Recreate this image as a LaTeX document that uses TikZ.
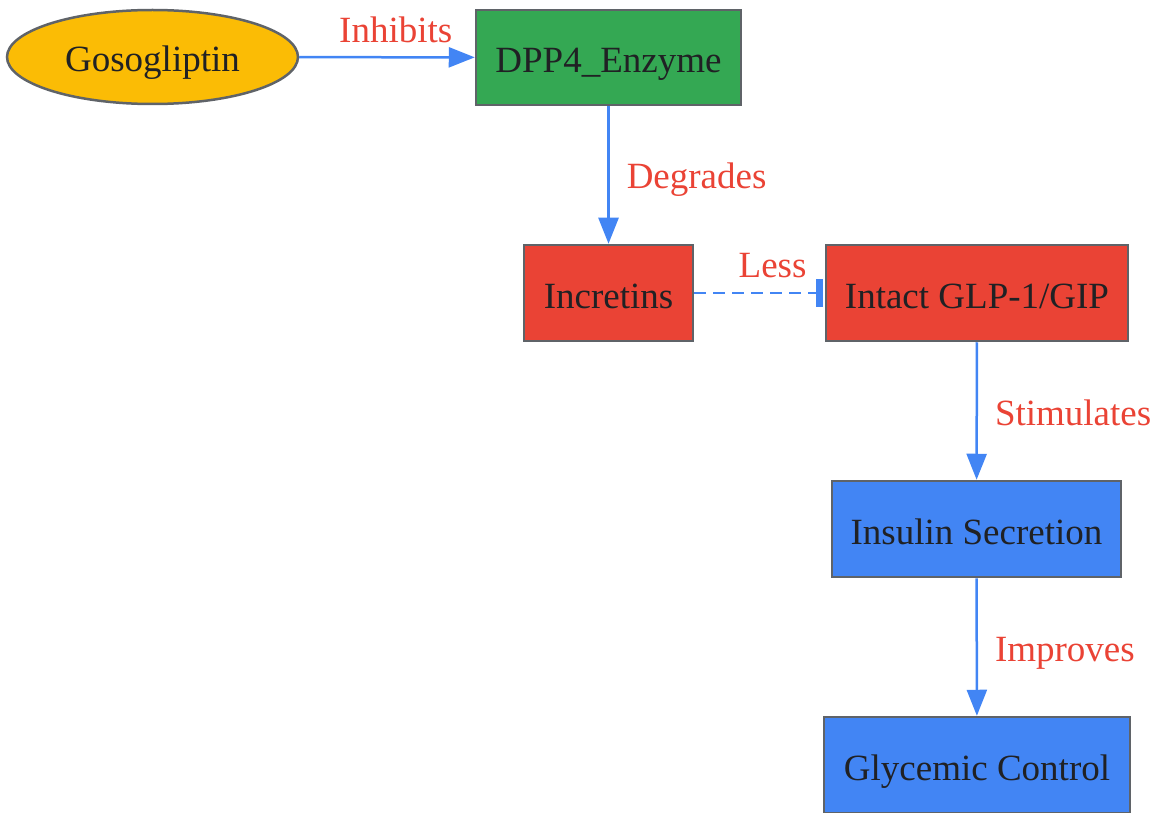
\documentclass[tikz,border=0pt]{standalone}
\usepackage{fontspec}
\setmainfont{Liberation Serif}
\usetikzlibrary{arrows.meta,shapes.geometric}
\definecolor{cyellow}{HTML}{FBBC05}
\definecolor{cgreen}{HTML}{34A853}
\definecolor{cred}{HTML}{EA4335}
\definecolor{cblue}{HTML}{4285F4}
\definecolor{cborder}{HTML}{5F6368}
\definecolor{ctext}{HTML}{202124}
\definecolor{clabel}{HTML}{EA4335}
\tikzset{
  basenode/.style={draw=cborder, line width=2.5pt, text=ctext, inner sep=0pt,
    font=\fontsize{37}{43}\selectfont, text height=33pt, text depth=3pt},
  boxnode/.style={basenode, rectangle},
  ovalnode/.style={basenode, ellipse},
  edge/.style={draw=cblue, line width=2.5pt, -{Triangle[length=26pt,width=20pt]}},
  teeedge/.style={draw=cblue, line width=2.8pt, dash pattern=on 12pt off 7pt,
    -{Bar[width=28pt,line width=7pt,sep=2pt]}},
  elabel/.style={text=clabel, font=\fontsize{37}{43}\selectfont, inner sep=0pt}
}
\begin{document}
\begin{tikzpicture}[x=1pt,y=-1pt]
\useasboundingbox (0,0) rectangle (1154,813);
\node[ovalnode, fill=cyellow, minimum width=291pt, minimum height=94pt] (gos) at (152.5,57) {Gosogliptin};
\node[boxnode, fill=cgreen, minimum width=265pt, minimum height=95pt] (dpp) at (608.5,57.5) {DPP4\_Enzyme};
\node[boxnode, fill=cred, minimum width=169pt, minimum height=96pt] (inc) at (608.5,293) {Incretins};
\node[boxnode, fill=cred, minimum width=302pt, minimum height=96pt] (glp) at (977,293) {Intact GLP-1/GIP};
\node[boxnode, fill=cblue, minimum width=289pt, minimum height=96pt] (ins) at (976.5,529) {Insulin Secretion};
\node[boxnode, fill=cblue, minimum width=306pt, minimum height=96pt] (gly) at (977,765) {Glycemic Control};

\draw[edge] (gos) -- node[elabel, pos=0.55, above=13pt] {Inhibits} (dpp);
\draw[edge] (dpp) -- node[elabel, right=17pt, yshift=-5pt] {Degrades} (inc);
\draw[teeedge] (inc) -- node[elabel, pos=0.6, above=14pt] {Less} (glp);
\draw[edge] (glp) -- node[elabel, right=17pt, yshift=-2pt] {Stimulates} (ins);
\draw[edge] (ins) -- node[elabel, right=17pt, yshift=-6pt] {Improves} (gly);
\end{tikzpicture}
\end{document}
